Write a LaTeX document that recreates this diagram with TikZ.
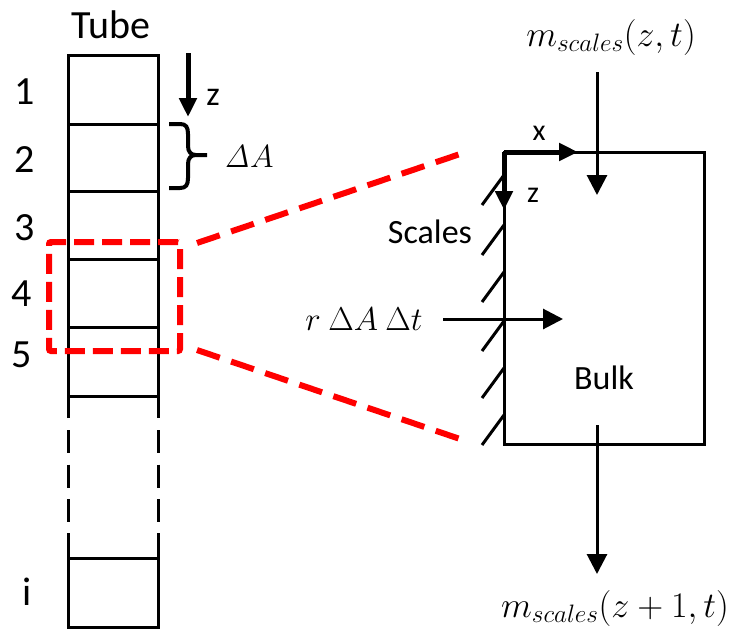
\documentclass[tikz,border=0pt]{standalone}
\usepackage{fix-cm}
\usepackage[no-math]{fontspec}
\setmainfont{Carlito}
\usepackage{amsmath}
\usetikzlibrary{arrows.meta}

\tikzset{
    big text/.style={font=\fontsize{40}{44}\selectfont, inner sep=0pt},
    mid text/.style={font=\fontsize{34}{38}\selectfont, inner sep=0pt},
    small text/.style={font=\fontsize{30}{34}\selectfont, inner sep=0pt},
    cell line/.style={line width=3pt},
    flow arrow/.style={line width=3pt, -{Triangle[length=20pt,width=20pt]}},
    axis arrow/.style={line width=5pt, -{Triangle[length=19pt,width=17pt]}},
    red dash/.style={draw=red, line width=6pt, dash pattern=on 24pt off 12pt}
}

\begin{document}
\begin{tikzpicture}[x=1pt,y=-1pt]

\useasboundingbox (0,0) rectangle (736,630);

% tube
\node[big text] (tube) at (111,25) {Tube};
\draw[cell line] (68,418) -- (68,55) -- (158,55) -- (158,418);
\foreach \ly in {124,191,259,327,396}
    \draw[cell line] (68,\ly) -- (158,\ly);
\draw[cell line, dash pattern=on 23pt off 11.5pt] (68,430) -- (68,533);
\draw[cell line, dash pattern=on 23pt off 11.5pt] (158,430) -- (158,533);
\draw[cell line] (68,533) -- (68,627) -- (158,627) -- (158,533);
\draw[cell line] (68,558) -- (158,558);

\node[big text] (n1) at (25,92) {1};
\node[big text] (n2) at (25,160) {2};
\node[big text] (n3) at (25,228) {3};
\node[big text] (n4) at (22,294) {4};
\node[big text] (n5) at (22,355) {5};
\node[big text] (ni) at (27,592) {i};

% z direction and cell size
\coordinate (ztop) at (188,53);
\coordinate (ztip) at (188,117);
\draw[axis arrow] (ztop) -- (ztip);
\node[mid text] (zt) at (213,97) {z};
\draw[line width=4pt, line join=round]
    (169,124) -- (180,124) .. controls (186,124) and (188,127) .. (188,134)
    -- (188,146) .. controls (188,152) and (191,155) .. (196,155) -- (207,155)
    (196,155) .. controls (191,155) and (188,158) .. (188,164)
    -- (188,178) .. controls (188,185) and (186,188) .. (180,188) -- (169,188);
\node[font=\fontsize{32}{36}\selectfont, inner sep=0pt] (dA) at (249,157) {$\mathit{\Delta} A$};

% zoom window
\node[red dash, rounded corners=2pt, minimum width=131pt, minimum height=109pt,
    dash pattern=on 20pt off 8pt] (zoom) at (114.5,296.5) {};
\coordinate (zoomtop) at (197,243);
\coordinate (zoombot) at (197,350);
\coordinate (cvtop) at (466,152);
\coordinate (cvbot) at (466,441);
\draw[red dash] (zoomtop) -- (cvtop);
\draw[red dash] (zoombot) -- (cvbot);

% control volume
\node[draw, line width=3pt, outer sep=0pt, inner sep=0pt,
    minimum width=200pt, minimum height=292pt] (cv) at (604,298) {};
\foreach \hy in {205,255,302,351,398,445}
    \draw[line width=3pt] (482,\hy) -- (504,\hy-30);
\draw[axis arrow] (cv.north west) -- ++(74,0);
\draw[axis arrow] (cv.north west) -- ++(0,58);
\node[small text] (xl) at (539,133) {x};
\node[small text] (zl) at (533,195) {z};
\node[mid text] (scl) at (430,232) {Scales};
\node[mid text] (bulk) at (604,378) {Bulk};

% fluxes
\node[font=\fontsize{36}{40}\selectfont, inner sep=0pt, anchor=base] (min) at (611,46) {$m_{scales}(z,t)$};
\coordinate (inbeg) at (597,72);
\coordinate (inend) at (597,195);
\draw[flow arrow] (inbeg) -- (inend);

\node[font=\fontsize{33}{37}\selectfont, inner sep=0pt, anchor=base] (src) at (364,330) {$r\ \Delta A\ \Delta t$};
\coordinate (srcbeg) at (443,319);
\coordinate (srcend) at (563,319);
\draw[flow arrow] (srcbeg) -- (srcend);

\node[font=\fontsize{36}{40}\selectfont, inner sep=0pt, anchor=base] (mout) at (615,617) {$m_{scales}(z+1,t)$};
\coordinate (outbeg) at (597,425);
\coordinate (outend) at (597,574);
\draw[flow arrow] (outbeg) -- (outend);

\end{tikzpicture}
\end{document}
